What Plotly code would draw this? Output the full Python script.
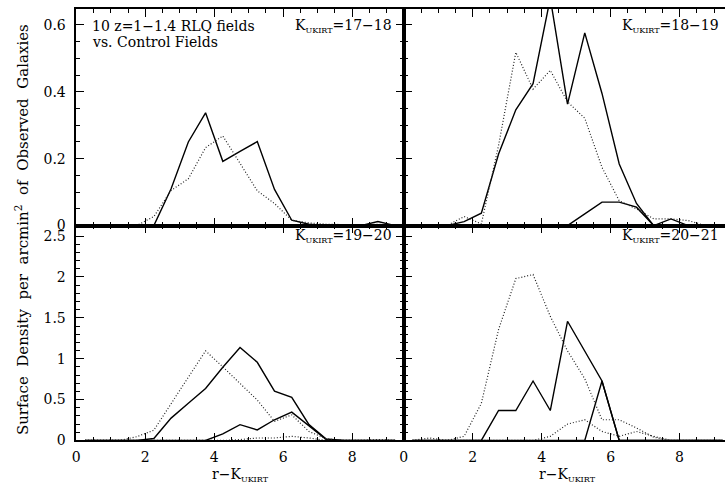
import plotly.graph_objects as go

# Bin centres of the r-K colour histograms
r_k = [0.25, 0.75, 1.25, 1.75, 2.25, 2.75, 3.25, 3.75, 4.25, 4.75,
       5.25, 5.75, 6.25, 6.75, 7.25, 7.75, 8.25, 8.75, 9.25]

# K = 17-18
rlq_17 = [0, 0, 0, 0, 0, 0.11, 0.25, 0.337, 0.192, 0.222,
          0.251, 0.108, 0.016, 0.004, 0, 0, 0, 0.012, 0]
ctl_17 = [0, 0, 0, 0, 0.027, 0.105, 0.14, 0.233, 0.268, 0.185,
          0.104, 0.066, 0.016, 0.008, 0.004, 0.003, 0.002, 0.004, 0]

# K = 18-19
rlq_18 = [0, 0, 0, 0.012, 0.037, 0.214, 0.346, 0.424, 0.68, 0.363,
          0.576, 0.395, 0.184, 0.066, 0, 0.02, 0, 0, 0]
rlq_18_red = [0, 0, 0, 0, 0, 0, 0, 0, 0, 0,
              0.035, 0.07, 0.07, 0.055, 0, 0, 0, 0, 0]
ctl_18 = [0, 0, 0, 0.027, 0.005, 0.24, 0.518, 0.408, 0.464, 0.37,
          0.321, 0.174, 0.074, 0.05, 0.02, 0.02, 0.015, 0, 0]

# K = 19-20
rlq_19 = [0, 0, 0, 0, 0.024, 0.273, 0.454, 0.635, 0.896, 1.137,
          0.956, 0.602, 0.527, 0.193, 0.017, 0, 0, 0, 0]
rlq_19_red = [0, 0, 0, 0, 0, 0, 0, 0, 0.08, 0.193,
              0.129, 0.253, 0.346, 0.173, 0.01, 0, 0, 0, 0]
ctl_19 = [0, 0, 0, 0.045, 0.125, 0.45, 0.77, 1.096, 0.9, 0.7,
          0.494, 0.233, 0.313, 0.11, 0.02, 0, 0, 0.01, 0]
ctl_19_red = [0, 0, 0, 0, 0, 0, 0, 0, 0, 0.01,
              0.03, 0.03, 0.05, 0.03, 0, 0, 0, 0, 0]

# K = 20-21
rlq_20 = [0, 0, 0, 0, 0, 0.366, 0.366, 0.727, 0.366, 1.458,
          1.09, 0.727, 0, 0, 0, 0, 0, 0, 0]
rlq_20_red = [0, 0, 0, 0, 0, 0, 0, 0, 0, 0,
              0, 0.727, 0, 0, 0, 0, 0, 0, 0]
ctl_20 = [0, 0.03, 0, 0.05, 0.454, 1.358, 1.98, 2.03, 1.518, 1.096,
          0.755, 0.253, 0.253, 0.153, 0.04, 0, 0, 0, 0]
ctl_20_red = [0, 0, 0, 0, 0, 0, 0, 0, 0.05, 0.2,
              0.253, 0.11, 0.05, 0.11, 0.05, 0, 0, 0, 0]

panel_labels = ["17\u221218", "18\u221219", "19\u221220", "20\u221221"]

W, H = 725, 493
FONT = "DejaVu Serif"

# panel frame in pixels
x0_l, x0_r, x_end = 72.7, 402.0, 731.3
y_top, y_mid, y_bot = 9.0, 229.3, 447.7
px_per_x = (x0_r - x0_l) / 9.5


def px(x):
    return x / W


def py(y):
    return 1 - y / H


fig = go.Figure()

solid = dict(color="black", width=1.4)
dotted = dict(color="#222222", width=1.2, dash="1px,2px")

panels = [
    ("x", "y", [(rlq_17, solid), (ctl_17, dotted)]),
    ("x2", "y2", [(rlq_18, solid), (rlq_18_red, solid), (ctl_18, dotted)]),
    ("x3", "y3", [(rlq_19, solid), (rlq_19_red, solid), (ctl_19, dotted), (ctl_19_red, dotted)]),
    ("x4", "y4", [(rlq_20, solid), (rlq_20_red, solid), (ctl_20, dotted), (ctl_20_red, dotted)]),
]
for xa, ya, series in panels:
    for vals, style in series:
        fig.add_trace(go.Scatter(x=r_k, y=vals, mode="lines", line=style,
                                 xaxis=xa, yaxis=ya, showlegend=False,
                                 cliponaxis=True, hoverinfo="skip"))

tickfont = dict(family=FONT, size=14, color="black")
common = dict(showline=True, linecolor="black", linewidth=1.5, ticks="inside",
              tickcolor="black", tickwidth=1.2, ticklen=8, showgrid=False,
              zeroline=False, tickfont=tickfont, fixedrange=True)

x_right_max = (W - x0_r) / px_per_x

xdom_l = [px(x0_l), px(x0_r)]
xdom_r = [px(x0_r), 1.0]
ydom_t = [py(y_mid), py(y_top)]
ydom_b = [py(y_bot), py(y_mid)]

xminor = dict(dtick=0.5, ticklen=4, tickcolor="black", tickwidth=1, ticks="inside", showgrid=False)
yminor_t = dict(dtick=0.05, ticklen=4, tickcolor="black", tickwidth=1, ticks="inside", showgrid=False)
yminor_b = dict(dtick=0.1, ticklen=4, tickcolor="black", tickwidth=1, ticks="inside", showgrid=False)

fig.update_layout(
    width=W, height=H, margin=dict(l=0, r=0, t=0, b=0),
    paper_bgcolor="white", plot_bgcolor="white",
    xaxis=dict(common, domain=xdom_l, range=[0, 9.5], dtick=2, tick0=0, minor=xminor,
               showticklabels=False, mirror="allticks", anchor="y"),
    yaxis=dict(common, domain=ydom_t, range=[0, (y_mid - y_top) / 340.0], dtick=0.2, tick0=0,
               minor=yminor_t, mirror="allticks", anchor="x", ticklabelstandoff=6),
    xaxis2=dict(common, domain=xdom_r, range=[0, x_right_max], dtick=2, tick0=0, minor=xminor,
                showticklabels=False, mirror="allticks", anchor="y2"),
    yaxis2=dict(common, domain=ydom_t, range=[0, (y_mid - y_top) / 340.0], dtick=0.2, tick0=0,
                minor=yminor_t, showticklabels=False, mirror=False, anchor="x2"),
    xaxis3=dict(common, domain=xdom_l, range=[0, 9.5], dtick=2, tick0=0, minor=xminor,
                mirror="allticks", anchor="y3", ticklabelstandoff=3),
    yaxis3=dict(common, domain=ydom_b, range=[0, (y_bot - y_mid) / 83.08], dtick=0.5, tick0=0,
                minor=yminor_b, mirror="allticks", anchor="x3", ticklabelstandoff=6),
    xaxis4=dict(common, domain=xdom_r, range=[0, x_right_max], dtick=2, tick0=0, minor=xminor,
                mirror="allticks", anchor="y4", ticklabelstandoff=3),
    yaxis4=dict(common, domain=ydom_b, range=[0, (y_bot - y_mid) / 83.08], dtick=0.5, tick0=0,
                minor=yminor_b, showticklabels=False, mirror=False, anchor="x4"),
)

kfont = dict(family=FONT, size=14, color="black")
ann = []


def ktext(rng):
    return "K<sub><span style='font-size:8px'>UKIRT</span></sub>=" + rng


# K-band magnitude labels in the upper right of each panel
label_pos = [(x0_r - 10, 26), (x_end - 10, 26), (x0_r - 10, 240), (x_end - 10, 240)]
for (lx, ly), rng in zip(label_pos, panel_labels):
    ann.append(dict(x=px(lx), y=py(ly), xref="paper", yref="paper", text=ktext(rng),
                    showarrow=False, xanchor="right", yanchor="middle", font=kfont))

ann.append(dict(x=px(86), y=py(26), xref="paper", yref="paper",
                text="10 z=1\u22121.4 RLQ fields", showarrow=False,
                xanchor="left", yanchor="middle", font=kfont))
ann.append(dict(x=px(86), y=py(43), xref="paper", yref="paper",
                text="vs. Control Fields", showarrow=False,
                xanchor="left", yanchor="middle", font=kfont))

# x-axis titles, centred under each full panel
for cx in [(x0_l + x0_r) / 2, (x0_r + x_end) / 2]:
    ann.append(dict(x=px(cx), y=py(483), xref="paper", yref="paper",
                    text="r\u2212K<sub><span style='font-size:8px'>UKIRT</span></sub>",
                    showarrow=False, xanchor="center", yanchor="middle", font=kfont))

ann.append(dict(x=px(18), y=py(233), xref="paper", yref="paper",
                text="Surface  Density  per  arcmin<sup>2</sup>  of  Observed  Galaxies",
                showarrow=False, textangle=-90, xanchor="center", yanchor="middle",
                font=dict(family=FONT, size=15, color="black")))

fig.update_layout(annotations=ann)
fig.write_html("out.html")
